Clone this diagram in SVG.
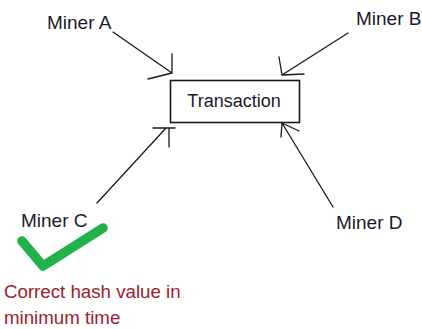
<svg xmlns="http://www.w3.org/2000/svg" width="422" height="329" viewBox="0 0 422 329">
<style>
.lbl{font-family:"Liberation Sans",Arial,sans-serif;font-size:18px;fill:#1a1a2e}
.mn{font-size:19px}
.red{font-family:"Liberation Sans",Arial,sans-serif;font-size:18.7px;fill:#a0202c}
.ln{stroke:#1a1a1a;stroke-width:1.3;fill:none;stroke-linecap:round}
</style>
<rect width="422" height="329" fill="#ffffff"/>
<g id="transaction">
<rect x="170.5" y="80.5" width="129" height="42" fill="#ffffff" stroke="#1a1a1a" stroke-width="1.6"/>
<text class="lbl" x="234" y="107" text-anchor="middle">Transaction</text>
</g>
<g id="minerA"><text class="lbl mn" x="47" y="29">Miner A</text></g>
<g id="minerB"><text class="lbl mn" x="356" y="25">Miner B</text></g>
<g id="minerC"><text class="lbl mn" x="21" y="227">Miner C</text></g>
<g id="minerD"><text class="lbl mn" x="336" y="229">Miner D</text></g>
<g id="check">
<polyline points="22,241 43,266 103,228" fill="none" stroke="#22b14c" stroke-width="9.5" stroke-linecap="round" stroke-linejoin="round"/>
</g>
<g id="note">
<text class="red" x="4" y="298">Correct hash value in</text>
<text class="red" x="4" y="324">minimum time</text>
</g>
<g id="connectors">
<path class="ln" d="M113,32 L172,73 M172,54 L172,73 M148,79 L172,73"/>
<path class="ln" d="M348,33 L282,75 M279,57 L282,75 M304,74 L282,75"/>
<path class="ln" d="M97,203 L166,128 M153,128 L175,128 M169,128 L169,147"/>
<path class="ln" d="M333,207 L282,123 M281,137 L282,123 M299,131 L282,123"/>
</g>
</svg>
